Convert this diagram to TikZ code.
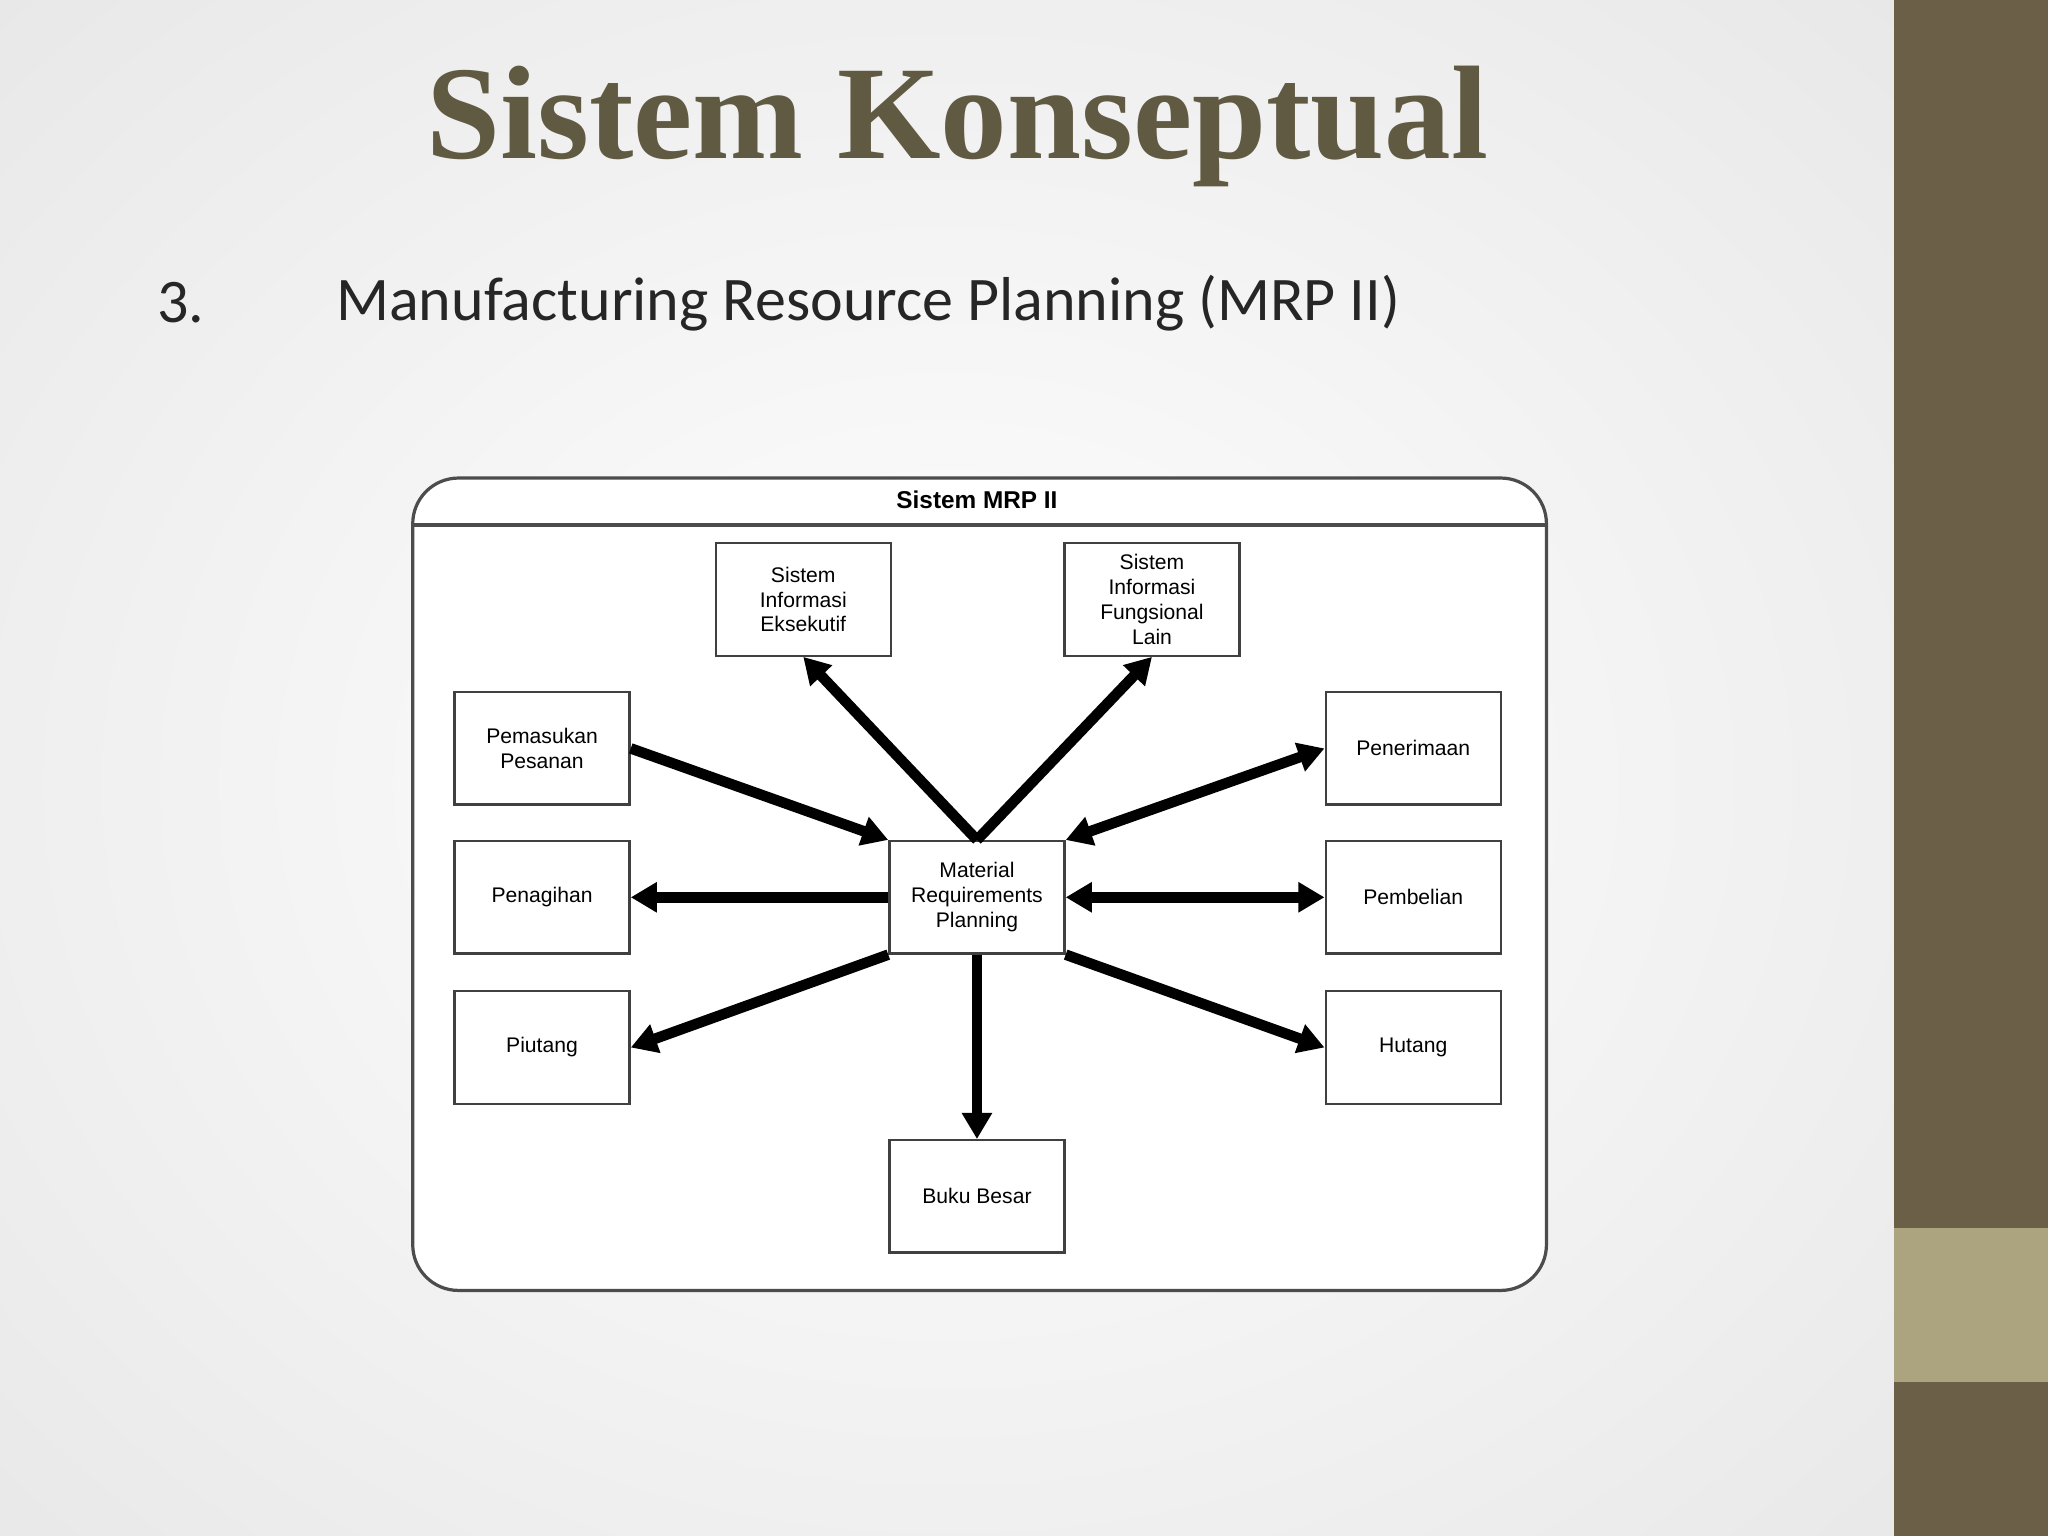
\documentclass[tikz,border=0pt]{standalone}
\usepackage{fontspec}
\setmainfont{Liberation Sans}
\newfontfamily\titlefont{Liberation Serif}
\newfontfamily\calfont{Carlito}
\usetikzlibrary{arrows.meta}
\definecolor{olive}{HTML}{6B5F47}
\definecolor{tan}{HTML}{ABA47F}
\definecolor{titlec}{HTML}{615A43}
\tikzset{
  bx/.style={draw=black!75,line width=0.5pt,minimum width=1.34cm,minimum height=0.86cm,inner sep=0pt,align=center,font=\fontsize{4.6}{5.4}\selectfont},
  arr/.style={line width=2.3pt,-{Triangle[length=0.2cm,width=0.22cm]}},
  darr/.style={line width=2.3pt,{Triangle[length=0.2cm,width=0.22cm]}-{Triangle[length=0.2cm,width=0.22cm]}}
}
\begin{document}
\begin{tikzpicture}[x=0.01cm,y=-0.01cm]
\useasboundingbox (0,0) rectangle (1568,1176);
\begin{scope}
\clip (0,0) rectangle (1450,1176);
\shade[inner color=white,outer color=black!9] (-300,-250) rectangle (1750,1450);
\end{scope}
\fill[olive] (1450,0) rectangle (1568,1176);
\fill[tan] (1450,940) rectangle (1568,1058);
\node[font=\titlefont\bfseries\fontsize{29}{30}\selectfont,text=titlec] (title) at (733,97) {Sistem Konseptual};
\node[font=\calfont\fontsize{13.5}{15}\selectfont,text=black!85,anchor=west] (num) at (108,232) {3.};
\node[font=\calfont\fontsize{13.5}{15}\selectfont,text=black!85,anchor=west] (sub) at (245,232) {Manufacturing Resource Planning (MRP II)};
\draw[black!70,line width=0.7pt,fill=white,rounded corners=0.35cm] (316,366) rectangle (1184,988);
\draw[black!70,line width=0.7pt] (316,402) -- (1184,402);
\node[font=\bfseries\fontsize{5.3}{6}\selectfont] (hdr) at (748,383) {Sistem MRP II};
\node[bx] (sie) at (615,459) {Sistem\\Informasi\\Eksekutif};
\node[bx] (sifl) at (882,459) {Sistem\\Informasi\\Fungsional\\Lain};
\node[bx] (pem) at (415,573) {Pemasukan\\Pesanan};
\node[bx] (pen) at (1082,573) {Penerimaan};
\node[bx] (pgh) at (415,687) {Penagihan};
\node[bx] (mrp) at (748,687) {Material\\Requirements\\Planning};
\node[bx] (pbl) at (1082,687) {Pembelian};
\node[bx] (piu) at (415,802) {Piutang};
\node[bx] (hut) at (1082,802) {Hutang};
\node[bx] (bb) at (748,916) {Buku Besar};
\draw[arr] (pem.east) -- (mrp.north west);
\draw[arr] (mrp.north) -- (sie.south);
\draw[arr] (mrp.north) -- (sifl.south);
\draw[darr] (mrp.north east) -- (pen.west);
\draw[arr] (mrp.west) -- (pgh.east);
\draw[darr] (mrp.east) -- (pbl.west);
\draw[arr] (mrp.south west) -- (piu.east);
\draw[arr] (mrp.south east) -- (hut.west);
\draw[arr] (mrp.south) -- (bb.north);
\end{tikzpicture}
\end{document}
